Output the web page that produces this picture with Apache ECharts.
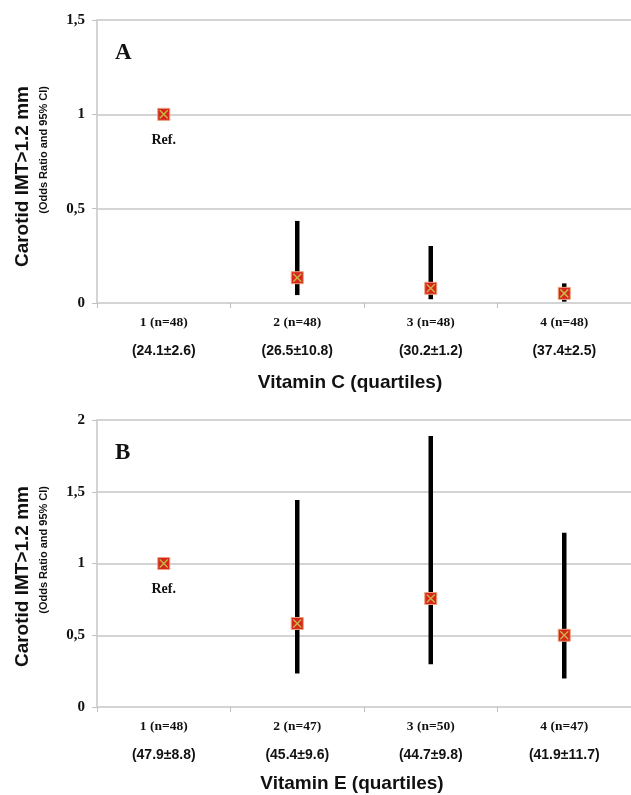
<!DOCTYPE html>
<html>
<head>
<meta charset="utf-8">
<script src="https://cdn.jsdelivr.net/npm/echarts@6/dist/echarts.min.js"></script>
<style>
html,body{margin:0;padding:0;background:#fff;}
#main{width:631px;height:795px;}
</style>
</head>
<body>
<div id="main"></div>
<script>
// Panel A: Vitamin C quartiles
const categoriesC = ['1 (n=48)', '2 (n=48)', '3 (n=48)', '4 (n=48)'];
const meansC = ['(24.1±2.6)', '(26.5±10.8)', '(30.2±1.2)', '(37.4±2.5)'];
const orC = [1, 0.134, 0.078, 0.051];
const lowC = [null, 0.042, 0.02, 0.007];
const highC = [null, 0.435, 0.302, 0.104];
const ticksC = { min: 0, max: 1.5, interval: 0.5 };

// Panel B: Vitamin E quartiles
const categoriesE = ['1 (n=48)', '2 (n=47)', '3 (n=50)', '4 (n=47)'];
const meansE = ['(47.9±8.8)', '(45.4±9.6)', '(44.7±9.8)', '(41.9±11.7)'];
const orE = [1, 0.582, 0.756, 0.5];
const lowE = [null, 0.233, 0.298, 0.198];
const highE = [null, 1.442, 1.889, 1.214];
const ticksE = { min: 0, max: 2, interval: 0.5 };

const yTitle1 = 'Carotid IMT>1.2 mm';
const yTitle2 = '(Odds Ratio and 95% CI)';
const xTitleC = 'Vitamin C (quartiles)';
const xTitleE = 'Vitamin E (quartiles)';

const chart = echarts.init(document.getElementById('main'));

const serif = '"Liberation Serif", "Times New Roman", serif';
const sans = '"Liberation Sans", Arial, sans-serif';
const gridGray = '#d4d4d4';

function makeX(idx, cats, means) {
  return {
    type: 'category', gridIndex: idx, data: cats, boundaryGap: true,
    axisLine: { lineStyle: { color: gridGray, width: 2 } },
    axisTick: { show: true, length: 5, lineStyle: { color: '#c0c0c0', width: 1 } },
    axisLabel: {
      interval: 0, margin: 6,
      formatter: function (v, i) { return '{a|' + v + '}\n{b|' + means[i] + '}'; },
      rich: {
        a: { fontFamily: serif, fontWeight: 'bold', fontSize: 13.5, color: '#111', lineHeight: 28 },
        b: { fontFamily: sans, fontWeight: 'bold', fontSize: 14, color: '#111', lineHeight: 28 }
      }
    }
  };
}
function makeY(idx, t) {
  return {
    type: 'value', gridIndex: idx, min: t.min, max: t.max, interval: t.interval,
    axisLine: { show: true, lineStyle: { color: gridGray, width: 2 } },
    axisTick: { show: true, length: 5, lineStyle: { color: '#c0c0c0', width: 1 } },
    splitLine: { lineStyle: { color: gridGray, width: 2 } },
    axisLabel: {
      margin: 12, fontFamily: serif, fontWeight: 'bold', fontSize: 15, color: '#111',
      formatter: function (v) { return String(v).replace('.', ','); }
    }
  };
}
function makeSeries(idx, ors, lows, highs) {
  return {
    type: 'custom', xAxisIndex: idx, yAxisIndex: idx,
    data: ors.map(function (v, i) { return [i, v]; }),
    renderItem: function (params, api) {
      const i = params.dataIndex;
      const c = api.coord([api.value(0), api.value(1)]);
      const ch = [];
      if (lows[i] != null) {
        const lo = api.coord([api.value(0), lows[i]]);
        const hi = api.coord([api.value(0), highs[i]]);
        ch.push({ type: 'line', shape: { x1: lo[0], y1: lo[1], x2: hi[0], y2: hi[1] },
          style: { stroke: '#000', lineWidth: 4.5 } });
      } else {
        ch.push({ type: 'text', style: { x: c[0], y: c[1] + 26, text: 'Ref.', align: 'center', verticalAlign: 'middle',
          font: 'bold 14px ' + serif, fill: '#111' } });
      }
      const s = 6;
      ch.push({ type: 'rect', shape: { x: c[0] - s, y: c[1] - s, width: 2 * s, height: 2 * s },
        style: { fill: '#d8241c', stroke: '#eaa27a', lineWidth: 1 } });
      ch.push({ type: 'line', shape: { x1: c[0] - 4, y1: c[1] - 4, x2: c[0] + 4, y2: c[1] + 4 },
        style: { stroke: '#c4b844', lineWidth: 1.5 } });
      ch.push({ type: 'line', shape: { x1: c[0] - 4, y1: c[1] + 4, x2: c[0] + 4, y2: c[1] - 4 },
        style: { stroke: '#c4b844', lineWidth: 1.5 } });
      return { type: 'group', children: ch };
    }
  };
}
function yTitles(top) {
  return [
    { type: 'text', x: 23, y: top, rotation: Math.PI / 2,
      style: { text: yTitle1, align: 'right', verticalAlign: 'middle', font: 'bold 19px ' + sans, fill: '#111' } },
    { type: 'text', x: 44, y: top, rotation: Math.PI / 2,
      style: { text: yTitle2, align: 'right', verticalAlign: 'middle', font: 'bold 11px ' + sans, fill: '#111' } }
  ];
}

chart.setOption({
  animation: false,
  grid: [
    { left: 97, right: -6, top: 20, height: 283 },
    { left: 97, right: -6, top: 420, height: 287 }
  ],
  xAxis: [makeX(0, categoriesC, meansC), makeX(1, categoriesE, meansE)],
  yAxis: [makeY(0, ticksC), makeY(1, ticksE)],
  series: [makeSeries(0, orC, lowC, highC), makeSeries(1, orE, lowE, highE)],
  graphic: [].concat(
    yTitles(86), yTitles(486),
    [
      { type: 'text', x: 115, y: 53, style: { text: 'A', align: 'left', verticalAlign: 'middle', font: 'bold 23px ' + serif, fill: '#111' } },
      { type: 'text', x: 115, y: 453, style: { text: 'B', align: 'left', verticalAlign: 'middle', font: 'bold 23px ' + serif, fill: '#111' } },
      { type: 'text', x: 350, y: 383, style: { text: xTitleC, align: 'center', verticalAlign: 'middle', font: 'bold 19px ' + sans, fill: '#111' } },
      { type: 'text', x: 352, y: 784, style: { text: xTitleE, align: 'center', verticalAlign: 'middle', font: 'bold 19px ' + sans, fill: '#111' } }
    ]
  )
});
</script>
</body>
</html>
